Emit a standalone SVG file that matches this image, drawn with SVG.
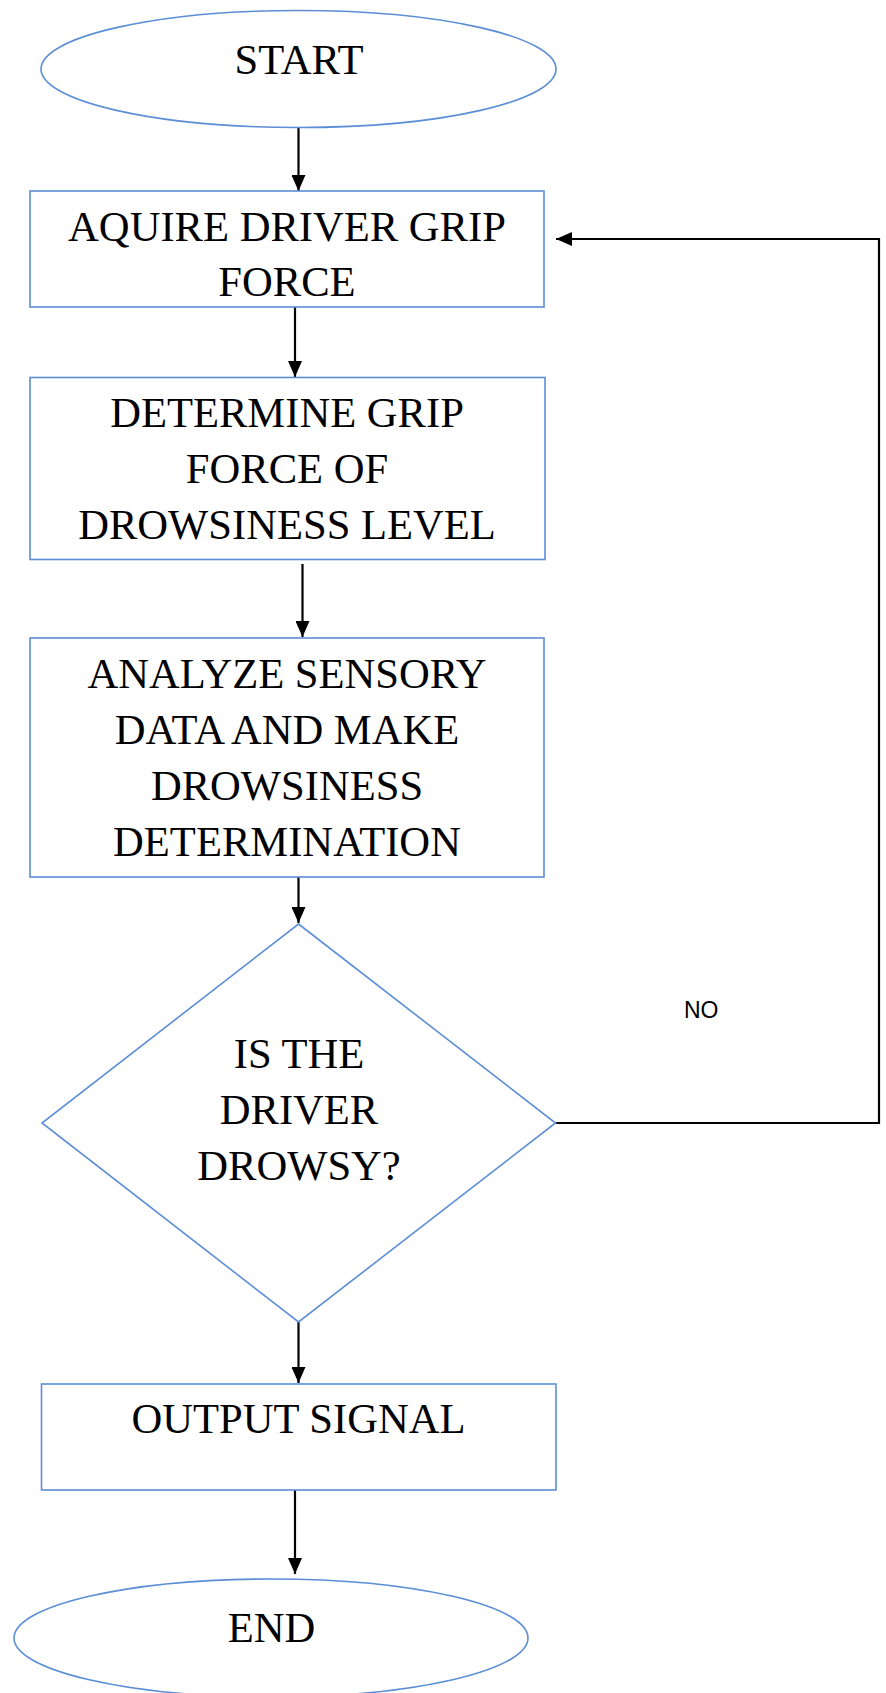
<svg xmlns="http://www.w3.org/2000/svg" width="886" height="1693" viewBox="0 0 886 1693">
<style>
.shape{fill:#ffffff;stroke:#5B8ED6;stroke-width:1.6}
.t{font-family:"Liberation Serif","Times New Roman",serif;font-size:42.6px;fill:#000;text-anchor:middle}
.lbl{font-family:"Liberation Sans",Arial,sans-serif;font-size:23px;fill:#000}
.c{fill:none;stroke:#000;stroke-width:2.2}
</style>
<defs>
<marker id="ah" viewBox="0 0 16 14" refX="16" refY="7" markerWidth="16" markerHeight="14" markerUnits="userSpaceOnUse" orient="auto">
<path d="M0,0 L16,7 L0,14 Z" fill="#000"/>
</marker>
</defs>
<rect width="886" height="1693" fill="#ffffff"/>
<g id="connectors">
<line class="c" x1="298.5" y1="128" x2="298.5" y2="191" marker-end="url(#ah)"/>
<line class="c" x1="295" y1="307" x2="295" y2="377" marker-end="url(#ah)"/>
<line class="c" x1="302.5" y1="564" x2="302.5" y2="637" marker-end="url(#ah)"/>
<line class="c" x1="298.5" y1="877" x2="298.5" y2="923" marker-end="url(#ah)"/>
<line class="c" x1="298.5" y1="1322" x2="298.5" y2="1383" marker-end="url(#ah)"/>
<line class="c" x1="295" y1="1490" x2="295" y2="1574" marker-end="url(#ah)"/>
<polyline class="c" points="556,1123 879,1123 879,239 556,239" marker-end="url(#ah)"/>
<text class="lbl" x="684" y="1018">NO</text>
</g>
<g id="start">
<ellipse class="shape" cx="298.5" cy="69" rx="257.5" ry="58.5"/>
<text class="t" x="299" y="74">START</text>
</g>
<g id="acquire">
<rect class="shape" x="30" y="191" width="514" height="116"/>
<text class="t" x="287" y="241">AQUIRE DRIVER GRIP</text>
<text class="t" x="287" y="296">FORCE</text>
</g>
<g id="determine">
<rect class="shape" x="30" y="377.5" width="515" height="182"/>
<text class="t" x="287" y="427">DETERMINE GRIP</text>
<text class="t" x="287" y="483">FORCE OF</text>
<text class="t" x="287" y="539">DROWSINESS LEVEL</text>
</g>
<g id="analyze">
<rect class="shape" x="30" y="638" width="514" height="239"/>
<text class="t" x="287" y="688">ANALYZE SENSORY</text>
<text class="t" x="287" y="744">DATA AND MAKE</text>
<text class="t" x="287" y="800">DROWSINESS</text>
<text class="t" x="287" y="856">DETERMINATION</text>
</g>
<g id="decision">
<polygon class="shape" points="298.5,924 555.5,1123 298.5,1322 42,1123"/>
<text class="t" x="299" y="1068">IS THE</text>
<text class="t" x="299" y="1124">DRIVER</text>
<text class="t" x="299" y="1180">DROWSY?</text>
</g>
<g id="output">
<rect class="shape" x="41.5" y="1384" width="514.5" height="106"/>
<text class="t" x="298.5" y="1433">OUTPUT SIGNAL</text>
</g>
<g id="end">
<ellipse class="shape" cx="271" cy="1638" rx="257" ry="59"/>
<text class="t" x="271.5" y="1642">END</text>
</g>
</svg>
